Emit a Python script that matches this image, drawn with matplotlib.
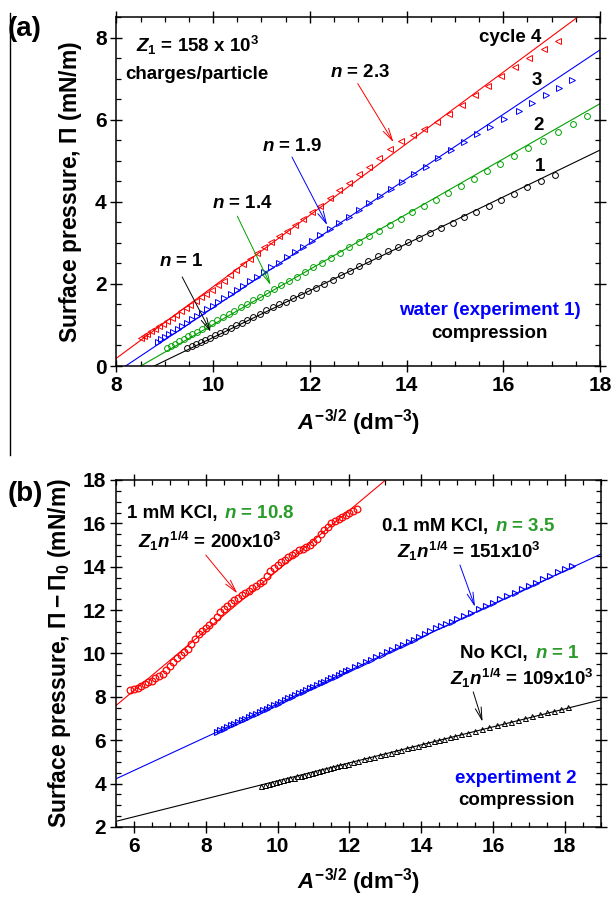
import matplotlib
matplotlib.use("Agg")
import matplotlib.pyplot as plt
from matplotlib.lines import Line2D
from matplotlib.offsetbox import TextArea, HPacker, AnnotationBbox
from matplotlib.ticker import MultipleLocator

plt.rcParams["font.family"] = ["Liberation Sans", "DejaVu Sans"]
plt.rcParams["font.weight"] = "bold"
plt.rcParams["mathtext.fontset"] = "custom"
plt.rcParams["mathtext.rm"] = "Liberation Sans:bold"
plt.rcParams["mathtext.bf"] = "Liberation Sans:bold"
plt.rcParams["mathtext.it"] = "Liberation Sans:italic:bold"

RED = "#ff0000"
BLUE = "#0000ff"
GREEN = "#00a000"
TGREEN = "#2b9b2b"

# ---------------------------------------------------------------------------
# Panel (a) data: water, experiment 1, compression cycles 1-4
# ---------------------------------------------------------------------------
c1_x = [9.47, 9.56, 9.65, 9.74, 9.84, 9.94, 10.04, 10.14, 10.25, 10.36, 10.47, 10.59,
        10.71, 10.83, 10.96, 11.09, 11.23, 11.37, 11.51, 11.66, 11.81, 11.97, 12.13,
        12.30, 12.47, 12.65, 12.83, 13.02, 13.21, 13.41, 13.61, 13.82, 14.03, 14.25,
        14.48, 14.71, 14.95, 15.19, 15.44, 15.70, 15.96, 16.23, 16.50, 16.78, 17.06]
c1_y = [0.43, 0.48, 0.53, 0.58, 0.64, 0.69, 0.75, 0.80, 0.86, 0.93, 0.99, 1.05,
        1.12, 1.19, 1.27, 1.36, 1.43, 1.50, 1.57, 1.65, 1.73, 1.82, 1.91,
        2.01, 2.10, 2.21, 2.32, 2.44, 2.55, 2.67, 2.79, 2.90, 3.02, 3.13,
        3.25, 3.36, 3.48, 3.62, 3.76, 3.90, 4.05, 4.20, 4.35, 4.50, 4.66]

c2_x = [9.05, 9.13, 9.21, 9.30, 9.39, 9.48, 9.57, 9.67, 9.77, 9.87, 9.98, 10.09,
        10.20, 10.32, 10.44, 10.57, 10.70, 10.83, 10.97, 11.11, 11.26, 11.41, 11.57,
        11.73, 11.90, 12.07, 12.25, 12.43, 12.62, 12.82, 13.02, 13.23, 13.44, 13.66,
        13.89, 14.12, 14.36, 14.61, 14.86, 15.12, 15.39, 15.66, 15.94, 16.23, 16.52,
        16.82, 17.13, 17.45, 17.74]
c2_y = [0.44, 0.49, 0.54, 0.60, 0.66, 0.72, 0.78, 0.84, 0.91, 0.97, 1.04, 1.12,
        1.19, 1.27, 1.34, 1.43, 1.51, 1.60, 1.69, 1.78, 1.88, 1.97, 2.08,
        2.18, 2.29, 2.40, 2.52, 2.64, 2.76, 2.89, 3.02, 3.16, 3.29, 3.44,
        3.59, 3.74, 3.89, 4.05, 4.22, 4.39, 4.56, 4.74, 4.92, 5.11, 5.30,
        5.49, 5.69, 5.90, 6.09]

c3_x = [8.85, 8.93, 9.01, 9.09, 9.18, 9.27, 9.36, 9.46, 9.56, 9.66, 9.77, 9.88,
        9.99, 10.11, 10.23, 10.36, 10.49, 10.62, 10.76, 10.90, 11.05, 11.20, 11.36,
        11.52, 11.69, 11.86, 12.04, 12.22, 12.41, 12.61, 12.81, 13.02, 13.23, 13.45,
        13.68, 13.91, 14.15, 14.40, 14.65, 14.91, 15.18, 15.45, 15.73, 16.02, 16.32,
        16.60, 16.88, 17.15, 17.42]
c3_y = [0.59, 0.65, 0.71, 0.77, 0.84, 0.91, 0.98, 1.06, 1.14, 1.21, 1.30, 1.38,
        1.47, 1.56, 1.65, 1.75, 1.85, 1.95, 2.06, 2.17, 2.28, 2.40, 2.52,
        2.65, 2.78, 2.91, 3.05, 3.19, 3.33, 3.49, 3.64, 3.80, 3.96, 4.13,
        4.31, 4.49, 4.67, 4.86, 5.06, 5.26, 5.46, 5.64, 5.83, 6.02, 6.22,
        6.41, 6.60, 6.78, 6.96]

c4_x = [8.50, 8.57, 8.64, 8.72, 8.80, 8.88, 8.96, 9.05, 9.14, 9.23, 9.33, 9.43,
        9.53, 9.64, 9.75, 9.86, 9.98, 10.10, 10.22, 10.35, 10.48, 10.62, 10.76,
        10.90, 11.05, 11.20, 11.36, 11.52, 11.69, 11.86, 12.04, 12.22, 12.41, 12.60,
        12.80, 13.01, 13.22, 13.44, 13.66, 13.89, 14.13, 14.37, 14.62, 14.88, 15.14,
        15.41, 15.68, 15.96, 16.25, 16.54, 16.84, 17.14]
c4_y = [0.68, 0.73, 0.79, 0.85, 0.91, 0.97, 1.03, 1.10, 1.17, 1.25, 1.33, 1.41,
        1.49, 1.58, 1.67, 1.76, 1.85, 1.97, 2.08, 2.21, 2.34, 2.48, 2.61,
        2.75, 2.90, 3.03, 3.16, 3.30, 3.44, 3.58, 3.75, 3.91, 4.10, 4.28,
        4.47, 4.67, 4.86, 5.07, 5.28, 5.47, 5.63, 5.78, 5.95, 6.15, 6.37,
        6.61, 6.83, 7.06, 7.29, 7.50, 7.71, 7.91]

# fitted lines (a)
fit1_x, fit1_y = [8.78, 18.0], [0.0, 5.26]
fit2_x, fit2_y = [8.50, 18.0], [0.0, 6.39]
fit3_x, fit3_y = [8.19, 18.0], [0.0, 7.70]
fit4_x, fit4_y = [8.00, 17.54], [0.19, 8.50]

# ---------------------------------------------------------------------------
# Panel (b) data: experiment 2, KCl series
# ---------------------------------------------------------------------------
kcl1_x = [5.9, 6.0, 6.1, 6.2, 6.3, 6.4, 6.5, 6.6, 6.7, 6.8, 6.9, 7.0, 7.1, 7.2, 7.3,
          7.4, 7.5, 7.6, 7.7, 7.8, 7.9, 8.0, 8.1, 8.2, 8.3, 8.4, 8.5, 8.6, 8.7, 8.8,
          8.9, 9.0, 9.1, 9.2, 9.3, 9.4, 9.5, 9.6, 9.7, 9.8, 9.9, 10.0, 10.1, 10.2,
          10.3, 10.4, 10.5, 10.6, 10.7, 10.8, 10.9, 11.0, 11.1, 11.2, 11.3, 11.4,
          11.5, 11.6, 11.7, 11.8, 11.9, 12.0, 12.1, 12.2]
kcl1_y = [8.30, 8.37, 8.43, 8.50, 8.58, 8.67, 8.75, 8.85, 8.95, 9.05, 9.23, 9.40,
          9.60, 9.80, 9.93, 10.07, 10.20, 10.43, 10.67, 10.90, 11.03, 11.17, 11.30,
          11.50, 11.70, 11.90, 12.05, 12.20, 12.35, 12.47, 12.58, 12.70, 12.80,
          12.90, 13.00, 13.12, 13.23, 13.35, 13.58, 13.80, 13.95, 14.10, 14.22,
          14.33, 14.45, 14.55, 14.65, 14.75, 14.83, 14.92, 15.00, 15.15, 15.30,
          15.50, 15.70, 15.85, 16.00, 16.10, 16.20, 16.30, 16.40, 16.50, 16.58, 16.65]

kcl01_x = [8.3, 8.4, 8.5, 8.6, 8.7, 8.8, 8.9, 9.0, 9.1, 9.2, 9.3, 9.4, 9.5, 9.6,
           9.7, 9.8, 9.9, 10.0, 10.1, 10.2, 10.3, 10.4, 10.5, 10.6, 10.7, 10.8, 10.9,
           11.0, 11.1, 11.2, 11.3, 11.4, 11.5, 11.6, 11.7, 11.8, 11.9, 12.0, 12.15,
           12.3, 12.45, 12.6, 12.75, 12.9, 13.05, 13.2, 13.35, 13.5, 13.65, 13.8,
           13.95, 14.1, 14.25, 14.4, 14.55, 14.7, 14.85, 15.0, 15.2, 15.4, 15.6, 15.8,
           16.0, 16.2, 16.4, 16.6, 16.8, 17.0, 17.2, 17.4, 17.6, 17.8, 18.0, 18.2]
kcl01_y = [6.38, 6.45, 6.53, 6.61, 6.69, 6.76, 6.84, 6.92, 6.99, 7.07, 7.15, 7.23,
           7.31, 7.38, 7.46, 7.54, 7.62, 7.69, 7.77, 7.85, 7.93, 8.00, 8.08, 8.16,
           8.24, 8.31, 8.39, 8.47, 8.55, 8.62, 8.70, 8.78, 8.86, 8.93, 9.01, 9.09,
           9.17, 9.24, 9.36, 9.48, 9.59, 9.71, 9.82, 9.94, 10.06, 10.17, 10.29,
           10.41, 10.52, 10.64, 10.76, 10.90, 11.05, 11.18, 11.28, 11.38, 11.46,
           11.57, 11.72, 11.88, 12.03, 12.19, 12.34, 12.50, 12.65, 12.81, 12.96,
           13.12, 13.27, 13.43, 13.58, 13.74, 13.89, 14.05]

nokcl_x = [9.55, 9.65, 9.75, 9.85, 9.95, 10.05, 10.15, 10.25, 10.35, 10.45, 10.55,
           10.65, 10.75, 10.85, 10.95, 11.05, 11.15, 11.25, 11.35, 11.45, 11.55, 11.65,
           11.75, 11.85, 11.95, 12.1, 12.25, 12.4, 12.55, 12.7, 12.85, 13.0, 13.15,
           13.3, 13.45, 13.6, 13.75, 13.9, 14.05, 14.2, 14.35, 14.5, 14.65, 14.8,
           14.95, 15.1, 15.3, 15.5, 15.7, 15.9, 16.1, 16.3, 16.5, 16.7, 16.9, 17.1,
           17.3, 17.5, 17.7, 17.9, 18.1]
nokcl_y = [3.90, 3.94, 3.99, 4.03, 4.07, 4.11, 4.16, 4.20, 4.24, 4.28, 4.33, 4.37,
           4.41, 4.46, 4.50, 4.54, 4.58, 4.63, 4.67, 4.71, 4.75, 4.80, 4.84, 4.88,
           4.92, 4.99, 5.05, 5.12, 5.18, 5.24, 5.31, 5.37, 5.43, 5.50, 5.56, 5.63,
           5.69, 5.75, 5.82, 5.88, 5.95, 6.01, 6.07, 6.14, 6.20, 6.27, 6.35, 6.44,
           6.52, 6.61, 6.69, 6.78, 6.86, 6.95, 7.03, 7.12, 7.20, 7.29, 7.37, 7.46, 7.54]

fitk1_x, fitk1_y = [5.5, 13.01], [7.60, 18.0]
fitk01_x, fitk01_y = [5.5, 19.0], [4.22, 14.58]
fitk0_x, fitk0_y = [5.5, 19.0], [2.26, 7.86]


def _apply_style(ax):
    for s in ax.spines.values():
        s.set_linewidth(1.1)
    ax.tick_params(which="major", direction="inout", length=8, width=1.0,
                   top=True, right=True, labelsize=15, pad=3)
    ax.tick_params(which="minor", direction="in", length=3.5, width=0.9,
                   top=True, right=True)


def _arrow(ax, text_xy, tip_xy, color):
    ax.annotate("", xy=tip_xy, xytext=text_xy,
                arrowprops=dict(arrowstyle="->,head_length=0.9,head_width=0.22",
                                color=color, lw=0.7, shrinkA=0, shrinkB=0))


def _two_color(ax, xy, left, right, size=13.5):
    box = HPacker(children=[
        TextArea(left, textprops=dict(color="black", fontsize=size, fontweight="bold")),
        TextArea(right, textprops=dict(color=TGREEN, fontsize=size, fontweight="bold")),
    ], align="baseline", pad=0, sep=5)
    ab = AnnotationBbox(box, xy, xycoords="data", frameon=False,
                        box_alignment=(0.5, 0.5), pad=0)
    ax.add_artist(ab)


fig = plt.figure(figsize=(6.12, 8.98), dpi=100)

# ------------------------------- panel (a) --------------------------------
ax = fig.add_axes([0.1902, 0.5924, 0.7902, 0.3886])
mk = dict(ls="none", mfc="none", ms=4.2, mew=0.7)
ax.plot(fit1_x, fit1_y, color="black", lw=0.8)
ax.plot(fit2_x, fit2_y, color=GREEN, lw=0.8)
ax.plot(fit3_x, fit3_y, color=BLUE, lw=0.8)
ax.plot(fit4_x, fit4_y, color=RED, lw=0.8)
ax.plot(c1_x, c1_y, marker="o", color="black", **mk)
ax.plot(c2_x, c2_y, marker="o", color=GREEN, **mk)
ax.plot(c3_x, c3_y, marker=">", color=BLUE, **mk)
ax.plot(c4_x, c4_y, marker="<", color=RED, **mk)

ax.set_xlim(8, 18)
ax.set_ylim(0, 8.5)
ax.xaxis.set_major_locator(MultipleLocator(2))
ax.xaxis.set_minor_locator(MultipleLocator(0.5))
ax.yaxis.set_major_locator(MultipleLocator(2))
ax.yaxis.set_minor_locator(MultipleLocator(0.5))
_apply_style(ax)

ax.text(-0.094, 0.5, r"Surface pressure, $\Pi$ (mN/m)", transform=ax.transAxes,
        rotation=90, ha="center", va="center", fontsize=16.5)
ax.text(0.5, -0.163, r"$A^{-3/2}$ (dm$^{-3}$)", transform=ax.transAxes,
        ha="center", va="center", fontsize=16)

fs = 13.5
ax.text(9.67, 7.80, r"$Z_1$ = 158 x 10$^3$", ha="center", va="center", fontsize=fs)
ax.text(9.67, 7.11, "charges/particle", ha="center", va="center", fontsize=fs)
ax.text(16.14, 8.01, "cycle 4", ha="center", va="center", fontsize=fs)
ax.text(16.69, 6.96, "3", ha="center", va="center", fontsize=fs)
ax.text(16.72, 5.87, "2", ha="center", va="center", fontsize=fs)
ax.text(16.76, 4.85, "1", ha="center", va="center", fontsize=fs)

ax.text(13.04, 7.16, r"$n$ = 2.3", ha="center", va="center", fontsize=fs)
_arrow(ax, (12.99, 6.88), (13.73, 5.45), RED)
ax.text(11.63, 5.34, r"$n$ = 1.9", ha="center", va="center", fontsize=fs)
_arrow(ax, (11.63, 5.09), (12.36, 3.43), BLUE)
ax.text(10.60, 3.96, r"$n$ = 1.4", ha="center", va="center", fontsize=fs)
_arrow(ax, (10.50, 3.65), (11.19, 1.97), GREEN)
ax.text(9.35, 2.54, r"$n$ = 1", ha="center", va="center", fontsize=fs)
_arrow(ax, (9.36, 2.17), (9.95, 0.83), "black")

ax.text(15.73, 1.36, "water (experiment 1)", color=BLUE, ha="center", va="center",
        fontsize=fs)
ax.text(15.72, 0.80, "compression", ha="center", va="center", fontsize=fs)

# ------------------------------- panel (b) --------------------------------
bx = fig.add_axes([0.1895, 0.0791, 0.792, 0.3864])
bx.plot(fitk1_x, fitk1_y, color=RED, lw=0.8)
bx.plot(fitk01_x, fitk01_y, color=BLUE, lw=0.8)
bx.plot(fitk0_x, fitk0_y, color="black", lw=0.8)
bx.plot(kcl1_x, kcl1_y, marker="o", color=RED, ls="none", mfc="none", ms=4.8, mew=0.9)
bx.plot(kcl01_x, kcl01_y, marker=">", color=BLUE, ls="none", mfc="none", ms=4.0, mew=0.8)
bx.plot(nokcl_x, nokcl_y, marker="^", color="black", ls="none", mfc="none", ms=3.6, mew=0.7)

bx.set_xlim(5.5, 19)
bx.set_ylim(2, 18)
bx.xaxis.set_major_locator(MultipleLocator(2))
bx.xaxis.set_minor_locator(MultipleLocator(0.5))
bx.yaxis.set_major_locator(MultipleLocator(2))
bx.yaxis.set_minor_locator(MultipleLocator(0.5))
_apply_style(bx)

bx.text(-0.116, 0.5, r"Surface pressure, $\Pi-\Pi_0$ (mN/m)", transform=bx.transAxes,
        rotation=90, ha="center", va="center", fontsize=16.5)
bx.text(0.5, -0.158, r"$A^{-3/2}$ (dm$^{-3}$)", transform=bx.transAxes,
        ha="center", va="center", fontsize=16)

_two_color(bx, (8.14, 16.46), "1 mM KCl,", r"$n$ = 10.8")
bx.text(8.12, 15.15, r"$Z_1n^{1/4}$ = 200x10$^3$", ha="center", va="center", fontsize=fs)
_arrow(bx, (8.00, 14.54), (8.88, 12.77), RED)

_two_color(bx, (15.33, 15.85), "0.1 mM KCl,", r"$n$ = 3.5")
bx.text(15.33, 14.69, r"$Z_1n^{1/4}$ = 151x10$^3$", ha="center", va="center", fontsize=fs)
_arrow(bx, (15.08, 14.08), (15.50, 12.15), BLUE)

_two_color(bx, (16.75, 10.00), "No KCl,", r"$n$ = 1")
bx.text(16.80, 8.85, r"$Z_1n^{1/4}$ = 109x10$^3$", ha="center", va="center", fontsize=fs)
_arrow(bx, (15.45, 8.23), (15.71, 6.85), "black")

bx.text(16.63, 4.23, "expertiment 2", color=BLUE, ha="center", va="center", fontsize=fs)
bx.text(16.64, 3.23, "compression", ha="center", va="center", fontsize=fs)

# panel letters and the left rule
fig.text(8 / 612, 1 - 29 / 898, "(a)", fontsize=20, fontweight="bold", ha="left", va="center")
fig.text(8 / 612, 1 - 494 / 898, "(b)", fontsize=20, fontweight="bold", ha="left", va="center")
fig.add_artist(Line2D([10 / 612, 10 / 612], [1 - 13 / 898, 1 - 455 / 898],
                      transform=fig.transFigure, color="black", lw=1.0))

fig.savefig("out.png", dpi=100)
